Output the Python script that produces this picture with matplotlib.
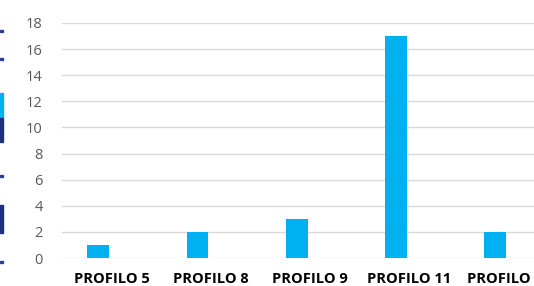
import matplotlib
matplotlib.use("Agg")
from matplotlib import pyplot as plt
from matplotlib.patches import Rectangle
import numpy as np

categories = ["PROFILO 5", "PROFILO 8", "PROFILO 9", "PROFILO 11", "PROFILO 12"]
values = [1, 2, 3, 17, 2]
yticks = [0, 2, 4, 6, 8, 10, 12, 14, 16, 18]

plt.rcParams['font.family'] = ['Open Sans', 'DejaVu Sans']

fig = plt.figure(figsize=(5.34, 2.86), dpi=100)
ax = fig.add_axes([62 / 534, 28 / 286, 496.5 / 534, 235 / 286])

x = np.arange(len(categories))
ax.bar(x - 0.136, values, width=0.22, color="#00b0f0", zorder=3)

ax.set_xlim(-0.5, 4.5)
ax.set_ylim(0, 18)
ax.set_yticks(yticks)
ax.set_yticklabels([str(t) for t in yticks], color="#595959", fontsize=10.5)
ax.set_xticks(x)
ax.set_xticklabels(categories, fontsize=10.5, fontweight="bold", color="black")
ax.tick_params(axis="both", length=0)
ax.tick_params(axis="y", pad=14)
ax.tick_params(axis="x", pad=10)
ax.grid(axis="y", color="#d9d9d9", linewidth=1, zorder=0)
for s in ax.spines.values():
    s.set_visible(False)

# bits of a neighbouring chart cropped at the left edge
for y0, h, c in [(30, 1.5, "#2f3f8f"), (58, 1.5, "#2f3f8f"), (93, 25, "#00b0f0"),
                 (118, 24, "#1f2f7f"), (175, 1.5, "#2f3f8f"), (205, 28, "#1f2f7f"),
                 (261, 1.5, "#2f3f8f")]:
    fig.patches.append(Rectangle((0, 1 - (y0 + h) / 286), 3 / 534, h / 286,
                                 transform=fig.transFigure, color=c))

fig.savefig("out.png", dpi=100)
